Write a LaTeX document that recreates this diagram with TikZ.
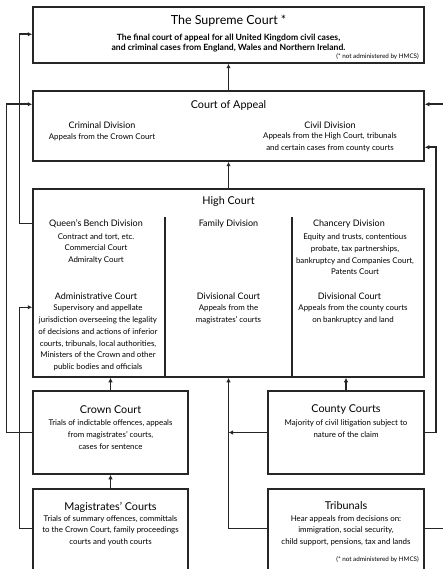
\documentclass[tikz,border=0pt]{standalone}
\usepackage{fontspec}
\setmainfont{Lato}
\usetikzlibrary{arrows.meta, positioning, calc}
\definecolor{CourtLine}{HTML}{262626}

\tikzset{
  courtbox/.style={draw=CourtLine, line width=1.5pt, inner sep=0pt},
  courttitle/.style={font=\fontsize{10.8}{12}\selectfont, align=center, inner sep=0pt},
  divtitle/.style={font=\fontsize{9}{10}\selectfont, align=center, inner sep=0pt},
  courttext/.style={font=\fontsize{7.9}{11.7}\selectfont, align=center, inner sep=0pt},
  notetext/.style={font=\fontsize{6.3}{7}\selectfont, inner sep=0pt, anchor=east},
  link/.style={draw=CourtLine, line width=1.5pt, -{Latex[length=4.5pt,width=4.5pt]}},
  bareline/.style={draw=CourtLine, line width=1.5pt},
}

\begin{document}
\begin{tikzpicture}[x=1pt, y=-1pt]
\useasboundingbox (0,0) rectangle (442,569);

% court boxes
\node[courtbox, minimum width=391pt, minimum height=56pt] (supreme) at (228.5,35) {};
\node[courtbox, minimum width=391pt, minimum height=70pt] (appeal) at (228.5,126) {};
\node[courtbox, minimum width=391pt, minimum height=188pt] (high) at (228.5,283) {};
\node[courtbox, minimum width=155pt, minimum height=83pt] (crown) at (110.5,432.5) {};
\node[courtbox, minimum width=155pt, minimum height=111pt] (magistrates) at (110.5,544.5) {};
\node[courtbox, minimum width=156pt, minimum height=83pt] (county) at (346,432.5) {};
\node[courtbox, minimum width=156pt, minimum height=111pt] (tribunals) at (346,544.5) {};

% Supreme Court
\node[courttitle, font=\fontsize{12.5}{14}\selectfont] (supremeT) at (228.5,21) {The Supreme Court *};
\node[courttext, font=\fontsize{8.6}{10}\selectfont\bfseries] (supremeB) at (228.5,43) {The final court of appeal for all United Kingdom civil cases,\\and criminal cases from England, Wales and Northern Ireland.};
\node[notetext] (supremeN) at (419,57) {(* not administered by HMCS)};

% Court of Appeal
\node[courttitle] (appealT) at (228.5,105) {Court of Appeal};
\node[divtitle] (criminalT) at (102,125) {Criminal Division};
\node[courttext] (criminalB) at (102,137) {Appeals from the Crown Court};
\node[divtitle] (civilT) at (330,125) {Civil Division};
\node[courttext] (civilB) at (330,142.5) {Appeals from the High Court, tribunals\\and certain cases from county courts};

% High Court
\node[courttitle] (highT) at (228.5,202) {High Court};
\draw[bareline] (165,217) -- (165,377);
\draw[bareline] (292,217) -- (292,377);
\node[divtitle] (benchT) at (96,224) {Queen's Bench Division};
\node[courttext] (benchB) at (96,248.5) {Contract and tort, etc.\\Commercial Court\\Admiralty Court};
\node[divtitle] (familyT) at (228.5,224) {Family Division};
\node[divtitle] (chanceryT) at (349,224) {Chancery Division};
\node[courttext] (chanceryB) at (355,254.5) {Equity and trusts, contentious\\probate, tax partnerships,\\bankruptcy and Companies Court,\\Patents Court};
\node[divtitle] (adminT) at (96,296) {Administrative Court};
\node[courttext] (adminB) at (98,338) {Supervisory and appellate\\jurisdiction overseeing the legality\\of decisions and actions of inferior\\courts, tribunals, local authorities,\\Ministers of the Crown and other\\public bodies and officials};
\node[divtitle] (famdivT) at (228.5,296) {Divisional Court};
\node[courttext] (famdivB) at (228.5,314) {Appeals from the\\magistrates' courts};
\node[divtitle] (chandivT) at (349.5,296) {Divisional Court};
\node[courttext] (chandivB) at (353,314) {Appeals from the county courts\\on bankruptcy and land};

% lower courts
\node[courttitle] (crownT) at (110.5,410) {Crown Court};
\node[courttext] (crownB) at (110.5,434.5) {Trials of indictable offences, appeals\\from magistrates' courts,\\cases for sentence};
\node[courttitle] (magistratesT) at (110.5,507) {Magistrates' Courts};
\node[courttext] (magistratesB) at (110.5,530.5) {Trials of summary offences, committals\\to the Crown Court, family proceedings\\courts and youth courts};
\node[courttitle] (countyT) at (346,410) {County Courts};
\node[courttext] (countyB) at (346,428.5) {Majority of civil litigation subject to\\nature of the claim};
\node[courttitle] (tribunalsT) at (346,506) {Tribunals};
\node[courttext] (tribunalsB) at (346,530.5) {Hear appeals from decisions on:\\immigration, social security,\\child support, pensions, tax and lands};
\node[notetext] (tribunalsN) at (419,560) {(* not administered by HMCS)};

% appeal routes
\coordinate (join) at (high.south |- county.west);
\draw[link] (appeal.north) -- (supreme.south);
\draw[link] (high.north) -- (appeal.south);
\draw[link] (crown.west) -- ++(-26,0) |- ([yshift=-14pt]appeal.north west);
\draw[link] ([yshift=-35pt]high.north west) -- ++(-13,0) |- ([yshift=-28pt]supreme.north west);
\draw[link] ([yshift=-40pt]magistrates.north west) -- ++(-13,0) |- ([yshift=-119pt]high.north west);
\draw[link] (crown.north) -- (crown.north |- high.south);
\draw[link] (magistrates.north) -- (crown.south);
\draw[link] (county.north) -- (county.north |- high.south);
\draw[link] (county.west) -- (join);
\draw[link] ([yshift=-40pt]tribunals.north west) -| (high.south);
\draw[link] (county.east) -- ++(11,0) |- ([yshift=-57pt]appeal.north east);
\draw[link] ([yshift=-40pt]tribunals.north east) -- ++(24,0) |- ([yshift=-14pt]appeal.north east);
\end{tikzpicture}
\end{document}
